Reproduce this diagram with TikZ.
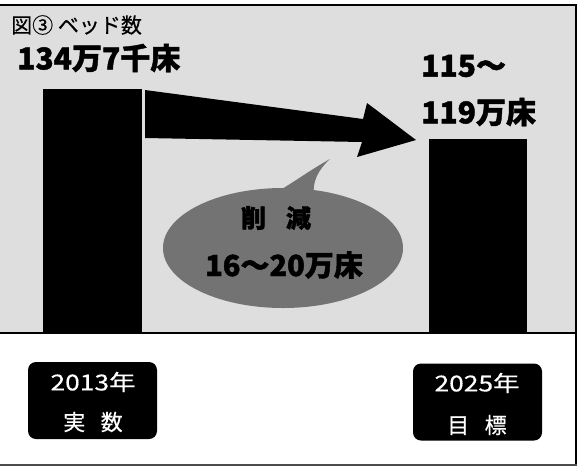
\documentclass[tikz,border=0pt]{standalone}
\usepackage{fontspec}
\newfontfamily\jp{Noto Sans CJK JP}
\newfontfamily\jph{Noto Sans CJK JP}[FakeBold=1.4]
\newfontfamily\jpm{Noto Sans CJK JP}[FakeBold=0.4]
\usetikzlibrary{shapes.geometric}
\begin{document}
\begin{tikzpicture}[x=1pt,y=-1pt,
  bar/.style={fill=black, draw=none, inner sep=0pt},
  yearbox/.style={fill=black, rounded corners=8pt, inner sep=0pt, minimum width=129pt, minimum height=77pt},
  big/.style={font=\jph\bfseries\fontsize{30}{32}\selectfont, inner sep=0pt},
  lab/.style={font=\jpm\fontsize{22}{24}\selectfont, text=white, inner sep=0pt},
  frame/.style={line width=2pt, draw=black}]
\useasboundingbox (0,0) rectangle (578,467);
% backgrounds
\fill[black!13] (0,6) rectangle (576,333);
\fill[white] (0,333) rectangle (576,465);
% frame lines
\draw[frame] (0,5) -- (577,5);
\draw[frame] (576,5) -- (576,465);
\draw[frame] (0,333) -- (577,333);
\draw[line width=2pt, draw=black!70] (0,465) -- (577,465);
% bars
\node[bar, minimum width=99pt, minimum height=244pt] (b13) at (92.5,211) {};
\node[bar, minimum width=98pt, minimum height=194pt] (b25) at (478,236) {};
% arrow
\fill[black] (145,90) -- (363,119) -- (367,103) -- (416,140) -- (357,157) -- (362,142) -- (145,138) -- cycle;
% bubble
\fill[black!55] (270,196) .. controls (290,185) and (310,170) .. (330,159)
  .. controls (318,170) and (312,182) .. (314,196) -- cycle;
\node[ellipse, fill=black!55, minimum width=240pt, minimum height=120pt, inner sep=0pt] (bub) at (283,248) {};
\node[font=\jph\bfseries\fontsize{25}{28}\selectfont, inner sep=0pt] (cut) at (276,218) {削\hspace{0.8em}減};
\node[font=\jph\bfseries\fontsize{29}{32}\selectfont, inner sep=0pt] (cutn) at (284,265) {16～20万床};
% texts
\node[font=\jpm\fontsize{21}{24}\selectfont, inner sep=0pt, anchor=west] (title) at (11,25) {図③ ベッド数};
\node[big, anchor=west] (v13) at (17,58) {134万7千床};
\node[big, anchor=west] (v25a) at (421,66) {115～};
\node[big, anchor=west] (v25b) at (421,112) {119万床};
% year boxes
\node[yearbox] (y13) at (92.5,400.5) {};
\node[lab] (y13a) at (93,382) {\scalebox{1.2}[1]{2013年}};
\node[lab] (y13b) at (93,422) {実\hspace{0.7em}数};
\node[yearbox] (y25) at (477.5,402) {};
\node[lab] (y25a) at (477,383) {\scalebox{1.2}[1]{2025年}};
\node[lab] (y25b) at (477,425) {目\hspace{0.7em}標};
\end{tikzpicture}
\end{document}
